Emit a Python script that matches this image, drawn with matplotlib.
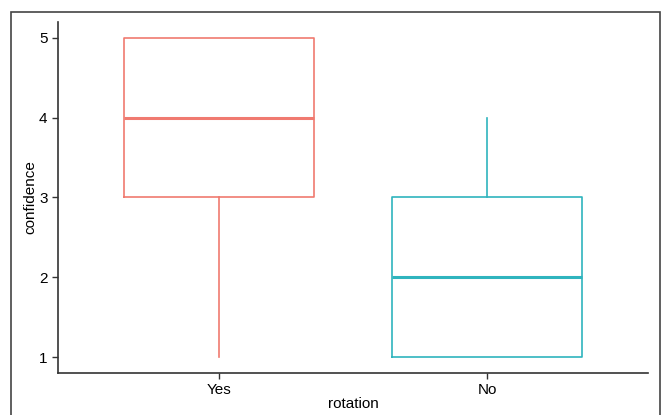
import matplotlib
matplotlib.use("Agg")
import matplotlib.pyplot as plt
from matplotlib.patches import Rectangle

# data
groups = ["Yes", "No"]
whisker_low = [1, 1]
q1 = [3, 1]
median = [4, 2]
q3 = [5, 3]
whisker_high = [5, 4]
colors = ["#F07A70", "#2FB4BE"]

plt.rcParams["font.family"] = ["Liberation Sans", "DejaVu Sans"]

fig = plt.figure(figsize=(6.62, 4.15), dpi=100)
ax = fig.add_axes([58 / 662, 1 - 373 / 415, 590 / 662, 351 / 415])

stats = []
for i, g in enumerate(groups):
    stats.append(dict(label=g, whislo=whisker_low[i], q1=q1[i], med=median[i],
                      q3=q3[i], whishi=whisker_high[i], fliers=[]))

for i, s in enumerate(stats):
    c = colors[i]
    ax.bxp([s], positions=[i + 1], widths=0.71, showcaps=False,
           boxprops=dict(color=c, linewidth=1.2),
           whiskerprops=dict(color=c, linewidth=1.2),
           medianprops=dict(color=c, linewidth=2.2),
           manage_ticks=False)

ax.set_xlim(0.4, 2.6)
ax.set_ylim(0.8, 5.2)
ax.set_xticks([1, 2])
ax.set_xticklabels(groups)
ax.set_yticks([1, 2, 3, 4, 5])
ax.tick_params(labelsize=11, length=4, width=1, colors="#333333", labelcolor="black")
ax.set_xlabel("rotation", fontsize=11, labelpad=0)
ax.set_ylabel("confidence", fontsize=11, labelpad=1)
for side in ["top", "right"]:
    ax.spines[side].set_visible(False)
for side in ["left", "bottom"]:
    ax.spines[side].set_color("#333333")
    ax.spines[side].set_linewidth(1.2)

# outer frame around the image
fig.patches.append(Rectangle((11 / 662, -0.05), 649 / 662, 1.05 - 12 / 415,
                             transform=fig.transFigure, fill=False,
                             edgecolor="#444444", linewidth=1.2))

fig.savefig("out.png", dpi=100)
